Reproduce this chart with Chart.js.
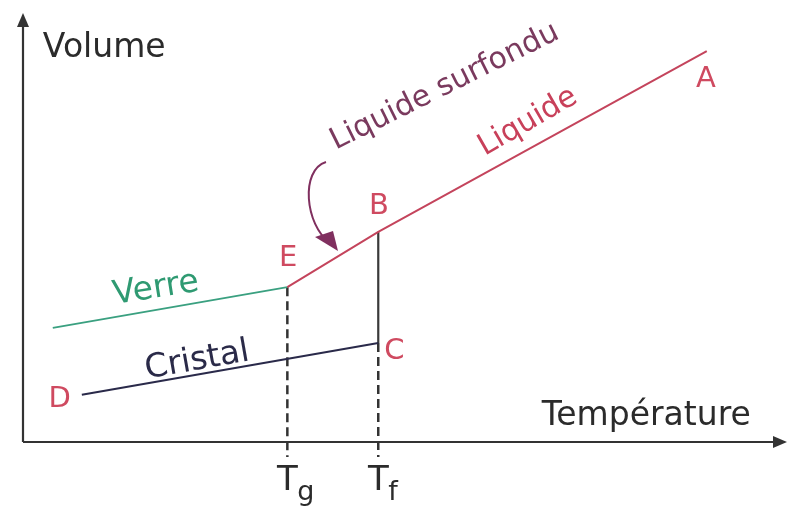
<!DOCTYPE html>
<html>
<head>
<meta charset="utf-8">
<script src="https://cdn.jsdelivr.net/npm/chart.js@4"></script>
<style>
  html, body { margin: 0; padding: 0; background: #ffffff; }
  #wrap { width: 789px; height: 506px; }
</style>
</head>
<body>
<div id="wrap"><canvas id="c" width="789" height="506"></canvas></div>
<script>
// ---- Data (arbitrary units: temperature 0..100, volume 0..100) ----
const Tg = 34.6;
const Tf = 46.5;
const liquideX = [Tg, Tf, 89.5];
const liquideY = [36.1, 49.0, 91.1];
const verreX = [3.9, Tg];
const verreY = [26.6, 36.1];
const cristalX = [7.7, Tf];
const cristalY = [11.0, 23.1];
const fusionX = [Tf, Tf];
const fusionY = [49.0, 23.1];
const tgLineY = [36.1, -3.5];
const tfLineY = [23.1, -3.5];

function pts(xs, ys) { return xs.map((x, i) => ({ x: x, y: ys[i] })); }

const FONT = '"DejaVu Sans", Verdana, sans-serif';

// text annotations (data coordinates)
const labels = [
  { t: 'Volume', x: 2.6, y: 89.7, size: 33, color: '#2b2b2b', align: 'left', base: 'alphabetic', rot: 0 },
  { t: 'Température', x: 67.9, y: 4.0, size: 33, color: '#2b2b2b', align: 'left', base: 'alphabetic', rot: 0 },
  { t: 'A', x: 89.4, y: 84.6, size: 29, color: '#cf4a60', rot: 0 },
  { t: 'B', x: 46.6, y: 54.8, size: 29, color: '#cf4a60', rot: 0 },
  { t: 'C', x: 48.6, y: 21.0, size: 29, color: '#cf4a60', rot: 0 },
  { t: 'D', x: 4.8, y: 10.0, size: 29, color: '#cf4a60', rot: 0 },
  { t: 'E', x: 34.7, y: 42.7, size: 29, color: '#cf4a60', rot: 0 },
  { t: 'Verre', x: 17.4, y: 35.7, size: 33, color: '#2f9a72', rot: -9 },
  { t: 'Cristal', x: 22.8, y: 18.9, size: 33, color: '#2a2a48', rot: -10 },
  { t: 'Liquide', x: 66.1, y: 74.6, size: 30, color: '#c8405a', rot: -30 },
  { t: 'Liquide surfondu', x: 55.2, y: 82.8, size: 30, color: '#7a3a5e', rot: -26.5 }
];

const arrowCurve = [[39.66, 65.27], [36.26, 63.40], [36.91, 50.58], [40.18, 46.39]];
const arrowHead = [[41.23, 44.52], [38.22, 47.79], [40.58, 49.18]];

const decor = {
  id: 'decor',
  afterDatasetsDraw(chart) {
    const ctx = chart.ctx;
    const xs = chart.scales.x, ys = chart.scales.y;
    const X = v => xs.getPixelForValue(v);
    const Y = v => ys.getPixelForValue(v);
    ctx.save();
    // axes
    const ox = X(0), oy = Y(0), ty = Y(100), rx = X(100);
    ctx.strokeStyle = '#333333';
    ctx.fillStyle = '#333333';
    ctx.lineWidth = 2.2;
    ctx.beginPath();
    ctx.moveTo(ox, oy); ctx.lineTo(ox, ty + 8);
    ctx.moveTo(ox, oy); ctx.lineTo(rx - 8, oy);
    ctx.stroke();
    ctx.beginPath();
    ctx.moveTo(ox, ty); ctx.lineTo(ox - 6, ty + 14); ctx.lineTo(ox + 6, ty + 14); ctx.closePath();
    ctx.fill();
    ctx.beginPath();
    ctx.moveTo(rx, oy); ctx.lineTo(rx - 14, oy - 6); ctx.lineTo(rx - 14, oy + 6); ctx.closePath();
    ctx.fill();

    // curved arrow
    ctx.strokeStyle = '#80305f';
    ctx.fillStyle = '#80305f';
    ctx.lineWidth = 2;
    ctx.beginPath();
    ctx.moveTo(X(arrowCurve[0][0]), Y(arrowCurve[0][1]));
    ctx.bezierCurveTo(X(arrowCurve[1][0]), Y(arrowCurve[1][1]),
                      X(arrowCurve[2][0]), Y(arrowCurve[2][1]),
                      X(arrowCurve[3][0]), Y(arrowCurve[3][1]));
    ctx.stroke();
    ctx.beginPath();
    ctx.moveTo(X(arrowHead[0][0]), Y(arrowHead[0][1]));
    ctx.lineTo(X(arrowHead[1][0]), Y(arrowHead[1][1]));
    ctx.lineTo(X(arrowHead[2][0]), Y(arrowHead[2][1]));
    ctx.closePath();
    ctx.fill();

    // labels
    labels.forEach(l => {
      ctx.save();
      ctx.translate(X(l.x), Y(l.y));
      ctx.rotate((l.rot || 0) * Math.PI / 180);
      ctx.font = l.size + 'px ' + FONT;
      ctx.fillStyle = l.color;
      ctx.textAlign = l.align || 'center';
      ctx.textBaseline = l.base || 'middle';
      ctx.fillText(l.t, 0, 0);
      ctx.restore();
    });

    // Tg / Tf tick labels with subscripts
    [[Tg, 'g'], [Tf, 'f']].forEach(([v, s]) => {
      const px = X(v);
      const base = oy + 48;
      ctx.fillStyle = '#2b2b2b';
      ctx.font = '34px ' + FONT;
      ctx.textAlign = 'center';
      ctx.textBaseline = 'alphabetic';
      ctx.fillText('T', px, base);
      ctx.font = '27px ' + FONT;
      ctx.textAlign = 'left';
      ctx.fillText(s, px + 10, base + 10);
    });
    ctx.restore();
  }
};

new Chart(document.getElementById('c'), {
  type: 'scatter',
  data: {
    datasets: [
      { label: 'Liquide', data: pts(liquideX, liquideY), showLine: true, borderColor: '#c4445c', borderWidth: 2, pointRadius: 0, tension: 0 },
      { label: 'Verre', data: pts(verreX, verreY), showLine: true, borderColor: '#3aa080', borderWidth: 2, pointRadius: 0 },
      { label: 'Cristal', data: pts(cristalX, cristalY), showLine: true, borderColor: '#2a2a4a', borderWidth: 2, pointRadius: 0 },
      { label: 'Fusion', data: pts(fusionX, fusionY), showLine: true, borderColor: '#3a3a3a', borderWidth: 2.2, pointRadius: 0 },
      { label: 'Tg', data: pts([Tg, Tg], tgLineY), showLine: true, borderColor: '#333333', borderWidth: 2.5, borderDash: [9, 5], pointRadius: 0, clip: false },
      { label: 'Tf', data: pts([Tf, Tf], tfLineY), showLine: true, borderColor: '#333333', borderWidth: 2.5, borderDash: [9, 5], pointRadius: 0, clip: false }
    ]
  },
  options: {
    responsive: false,
    animation: false,
    events: [],
    layout: { padding: { left: 23, right: 2, top: 13, bottom: 64 } },
    plugins: { legend: { display: false }, tooltip: { enabled: false } },
    scales: {
      x: { type: 'linear', min: 0, max: 100, display: false },
      y: { type: 'linear', min: 0, max: 100, display: false }
    }
  },
  plugins: [decor]
});
</script>
</body>
</html>
